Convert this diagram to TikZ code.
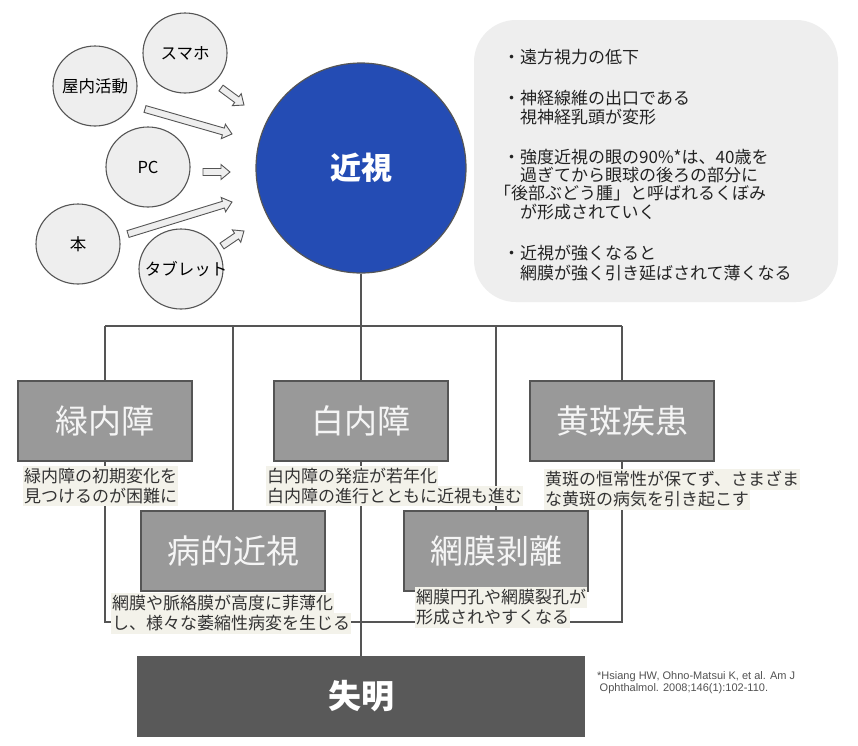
\documentclass[tikz,border=0pt]{standalone}
\usepackage{fontspec}
\setmainfont{Noto Sans CJK JP}
\newfontfamily\fnfont{Liberation Sans}
\usetikzlibrary{shapes.geometric}
\pgfdeclarelayer{bg}
\pgfsetlayers{bg,main}
\definecolor{linec}{HTML}{555555}
\definecolor{lightf}{HTML}{EEEEEE}
\definecolor{boxf}{HTML}{999999}
\definecolor{darkf}{HTML}{595959}
\definecolor{bluef}{HTML}{244CB4}
\definecolor{capf}{HTML}{F3F2EA}
\definecolor{capt}{HTML}{333333}
\definecolor{infot}{HTML}{222222}
\newcommand\myarrow[3]{\draw[barrow, shift={(#1)}, rotate=#2] (0,3.5) -- ({#3-9},3.5) -- ({#3-9},7.5) -- (#3,0) -- ({#3-9},-7.5) -- ({#3-9},-3.5) -- (0,-3.5) -- cycle;}
\begin{document}
\begin{tikzpicture}[x=1pt,y=-1pt,
  src/.style={ellipse, draw=linec, fill=lightf, line width=1.1pt, minimum width=84pt, minimum height=80pt, inner sep=0pt, font=\fontsize{16.5}{18}\selectfont},
  barrow/.style={draw=linec, fill=lightf, line width=0.9pt, line join=miter},
  disbox/.style={rectangle, draw=linec, fill=boxf, line width=1.4pt, minimum height=80pt, text=white!96!black, font=\fontsize{33}{36}\selectfont, inner sep=0pt},
  captn/.style={anchor=west, fill=capf, text=capt, inner xsep=1pt, inner ysep=0pt, minimum height=20.5pt, text height=14.5pt, text depth=2pt, font=\fontsize{17}{20}\selectfont},
  info/.style={anchor=west, inner sep=0pt, text=infot, text height=14pt, text depth=1.5pt, font=\fontsize{17}{19}\selectfont},
  link/.style={draw=linec, line width=1.5pt}
]
\useasboundingbox (0,0) rectangle (858,745);

% info box
\node[name=infobox, fill=lightf, rounded corners=42pt, minimum width=364pt, minimum height=282pt, inner sep=0pt] at (656,161) {};
\node[info, name=i1] at (503,57) {・遠方視力の低下};
\node[info, name=i2] at (503,98) {・神経線維の出口である};
\node[info, name=i3] at (520,117) {視神経乳頭が変形};
\node[info, name=i4] at (503,157) {・強度近視の眼の90\%*は、40歳を};
\node[info, name=i5] at (520,175) {過ぎてから眼球の後ろの部分に};
\node[info, name=i6] at (494,193) {「後部ぶどう腫」と呼ばれるくぼみ};
\node[info, name=i7] at (520,212) {が形成されていく};
\node[info, name=i8] at (503,253) {・近視が強くなると};
\node[info, name=i9] at (520,273) {網膜が強く引き延ばされて薄くなる};

% sources
\node[src, name=sumaho] at (185,53) {\makebox[0pt]{スマホ}};
\node[src, name=okunai] at (95,86) {\makebox[0pt]{屋内活動}};
\node[src, name=pc] at (148,167) {\makebox[0pt]{PC}};
\node[src, name=hon] at (78,244) {\makebox[0pt]{本}};
\node[src, name=tab] at (181,269) {\makebox[0pt]{\hspace*{10pt}タブレット}};

% block arrows
\coordinate (a1) at (221,88);
\coordinate (a2) at (145,109);
\coordinate (a3) at (203,172);
\coordinate (a4) at (128,234);
\coordinate (a5) at (222,246);
\myarrow{a1}{-36.5}{28.6}
\myarrow{a2}{-16}{90.5}
\myarrow{a3}{0}{27}
\myarrow{a4}{17.1}{108.8}
\myarrow{a5}{34.3}{26.6}

% myopia circle
\node[circle, name=kinshi, draw=linec, fill=bluef, line width=1.2pt, minimum size=210pt, inner sep=0pt, text=white, font=\bfseries\fontsize{31}{34}\selectfont] at (361,168) {近視};

% disease boxes
\node[disbox, name=ryoku, minimum width=174pt] at (105,421) {緑内障};
\node[disbox, name=haku, minimum width=174pt] at (361,421) {白内障};
\node[disbox, name=ou, minimum width=184pt] at (622,421) {黄斑疾患};
\node[disbox, name=byo, minimum width=184pt] at (233,551) {病的近視};
\node[disbox, name=mo, minimum width=184pt] at (496,551) {網膜剥離};
\node[rectangle, name=shitsu, fill=darkf, minimum width=448pt, minimum height=81pt, inner sep=0pt, text=white, font=\bfseries\fontsize{33}{36}\selectfont] at (361,696.5) {失明};

% captions
\node[captn, name=c1a] at (23,476) {緑内障の初期変化を};
\node[captn, name=c1b] at (23,496) {見つけるのが困難に};
\node[captn, name=c2a] at (266,476) {白内障の発症が若年化};
\node[captn, name=c2b] at (266,496) {白内障の進行とともに近視も進む};
\node[captn, name=c3a] at (544,479.5) {黄斑の恒常性が保てず、さまざま};
\node[captn, name=c3b] at (544,499.5) {な黄斑の病気を引き起こす};
\node[captn, name=c4a] at (111,603.5) {網膜や脈絡膜が高度に菲薄化};
\node[captn, name=c4b] at (111,623.5) {し、様々な萎縮性病変を生じる};
\node[captn, name=c5a] at (415,597.5) {網膜円孔や網膜裂孔が};
\node[captn, name=c5b] at (415,617.5) {形成されやすくなる};

% footnote
\node[name=fn, anchor=north west, inner sep=0pt, align=left, text=black!68, font=\fnfont\fontsize{11}{12}\selectfont] at (597,671) {*Hsiang HW, Ohno-Matsui K, et al. Am J\\\hspace{2.5pt}Ophthalmol. 2008;146(1):102-110.};

% connectors
\begin{pgfonlayer}{bg}
\fill[white] (0,0) rectangle (858,745);
\coordinate (tL) at (105,326);
\coordinate (tA) at (233,326);
\coordinate (tM) at (361,326);
\coordinate (tB) at (496,326);
\coordinate (tR) at (622,326);
\coordinate (uL) at (105,622);
\coordinate (uR) at (622,622);
\draw[link] (tL) -- (tR);
\draw[link] (kinshi) -- (tM);
\draw[link] (tL) -- (ryoku);
\draw[link] (tA) -- (byo);
\draw[link] (tM) -- (haku);
\draw[link] (tB) -- (mo);
\draw[link] (tR) -- (ou);
\draw[link] (ryoku) -- (uL) -- (uR) -- (ou);
\draw[link] (haku) -- (shitsu);
\end{pgfonlayer}
\end{tikzpicture}
\end{document}
